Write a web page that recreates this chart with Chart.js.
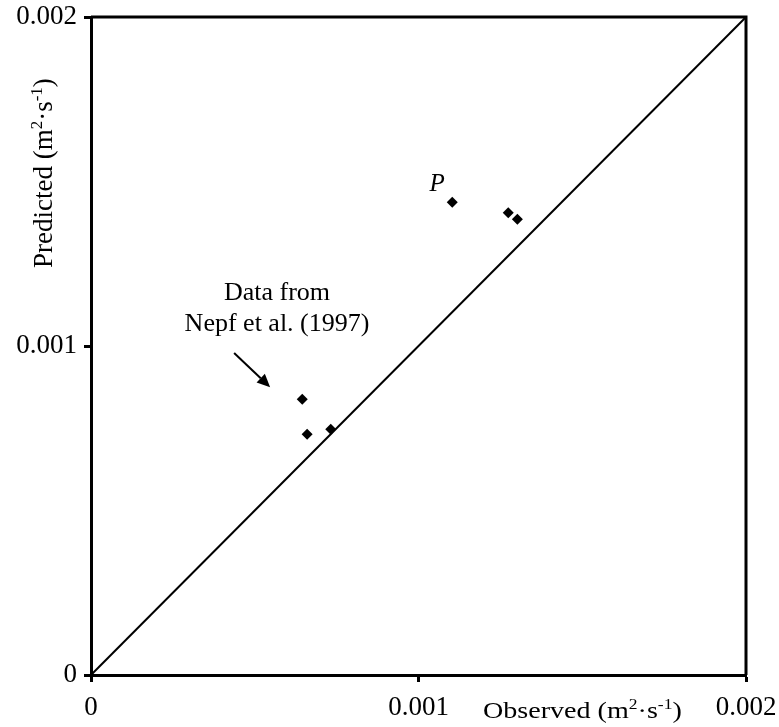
<!DOCTYPE html>
<html>
<head>
<meta charset="utf-8">
<script src="https://cdn.jsdelivr.net/npm/chart.js@4/dist/chart.umd.min.js"></script>
<style>
html,body{margin:0;padding:0;background:#fff;}
#c{display:block;}
</style>
</head>
<body>
<canvas id="c" width="779" height="727"></canvas>
<script>
// ---- data ----
const observed  = [0.000645, 0.000660, 0.000732, 0.001103, 0.001274, 0.001302];
const predicted = [0.000838, 0.000732, 0.000747, 0.001437, 0.001405, 0.001385];
const lineX = [0, 0.002];
const lineY = [0, 0.002];
const tickValues = [0, 0.001, 0.002];
const tickLabels = ['0', '0.001', '0.002'];
const xTitle = [{t:'Observed (m'},{t:'2',sup:true},{t:'·s'},{t:'-1',sup:true},{t:')'}];
const yTitle = [{t:'Predicted (m'},{t:'2',sup:true},{t:'·s'},{t:'-1',sup:true},{t:')'}];
const noteLines = ['Data from', 'Nepf et al. (1997)'];
const pLabel = 'P';

const SERIF = '"Liberation Serif", "Times New Roman", serif';

function fmtTick(v){
  for (let i=0;i<tickValues.length;i++) if (Math.abs(v-tickValues[i])<1e-9) return tickLabels[i];
  return '';
}

function drawRich(ctx, parts, x, y, size){
  let cx = x;
  parts.forEach(p=>{
    if (p.sup){
      ctx.font = Math.round(size*0.62)+'px '+SERIF;
      ctx.fillText(p.t, cx, y - size*0.36);
    } else {
      ctx.font = size+'px '+SERIF;
      ctx.fillText(p.t, cx, y);
    }
    cx += ctx.measureText(p.t).width;
  });
}

const decor = {
  id:'decor',
  afterDatasetsDraw(chart){
    const ctx = chart.ctx, a = chart.chartArea;
    const xs = chart.scales.x, ys = chart.scales.y;
    ctx.save();
    // top and right frame lines
    ctx.strokeStyle = '#000';
    ctx.lineWidth = 3;
    ctx.beginPath();
    ctx.moveTo(a.left, a.top);
    ctx.lineTo(a.right, a.top);
    ctx.lineTo(a.right, a.bottom);
    ctx.stroke();

    ctx.fillStyle = '#000';
    ctx.textAlign = 'left';
    ctx.textBaseline = 'alphabetic';
    // x title (slightly widened like the reference)
    ctx.save();
    ctx.translate(483, 718);
    ctx.scale(1.17, 1);
    drawRich(ctx, xTitle, 0, 0, 24);
    ctx.restore();
    // y title rotated
    ctx.save();
    ctx.translate(52, 268);
    ctx.rotate(-Math.PI/2);
    drawRich(ctx, yTitle, 0, 0, 27);
    ctx.restore();

    // annotation text
    ctx.font = '26px '+SERIF;
    ctx.textAlign = 'center';
    ctx.fillText(noteLines[0], xs.getPixelForValue(0.000568), ys.getPixelForValue(0.001164)+8);
    ctx.fillText(noteLines[1], xs.getPixelForValue(0.000568), ys.getPixelForValue(0.00107)+8);
    ctx.font = 'italic 25px '+SERIF;
    ctx.fillText(pLabel, xs.getPixelForValue(0.001057), ys.getPixelForValue(0.001495)+8);

    // arrow
    const x1 = xs.getPixelForValue(0.000437), y1 = ys.getPixelForValue(0.000979);
    const x2 = xs.getPixelForValue(0.000547), y2 = ys.getPixelForValue(0.000875);
    const ang = Math.atan2(y2-y1, x2-x1);
    const hl = 13, hw = 6;
    const bx = x2 - hl*Math.cos(ang), by = y2 - hl*Math.sin(ang);
    ctx.lineWidth = 2;
    ctx.beginPath(); ctx.moveTo(x1,y1); ctx.lineTo(bx,by); ctx.stroke();
    ctx.beginPath();
    ctx.moveTo(x2,y2);
    ctx.lineTo(bx + hw*Math.sin(ang), by - hw*Math.cos(ang));
    ctx.lineTo(bx - hw*Math.sin(ang), by + hw*Math.cos(ang));
    ctx.closePath(); ctx.fill();
    ctx.restore();
  }
};

const axisCommon = {
  type:'linear', min:0, max:0.002,
  border:{display:true, color:'#000', width:3},
  grid:{display:true, drawOnChartArea:false, drawTicks:true, tickLength:7, tickColor:'#000', tickWidth:3, color:'#000'},
  title:{display:false}
};

new Chart(document.getElementById('c'), {
  type:'scatter',
  data:{
    datasets:[
      {
        label:'1:1',
        type:'line',
        data: lineX.map((x,i)=>({x, y:lineY[i]})),
        borderColor:'#000', borderWidth:2, pointRadius:0, fill:false, order:2
      },
      {
        label:'data',
        data: observed.map((x,i)=>({x, y:predicted[i]})),
        pointStyle:'rectRot', pointRadius:5.5, backgroundColor:'#000', borderColor:'#000', borderWidth:0, order:1
      }
    ]
  },
  options:{
    responsive:false, animation:false, devicePixelRatio:1,
    layout:{padding:{left:0, top:17, right:33, bottom:0}},
    plugins:{legend:{display:false}, tooltip:{enabled:false}},
    scales:{
      x: Object.assign({}, axisCommon, {
        position:'bottom',
        afterBuildTicks(s){ s.ticks = tickValues.map(v=>({value:v})); },
        ticks:{callback:fmtTick, color:'#000', font:{family:SERIF, size:27}, padding:10, maxRotation:0, autoSkip:false},
        afterFit(s){ s.height = 52; s.paddingLeft = 0; s.paddingRight = 0; }
      }),
      y: Object.assign({}, axisCommon, {
        position:'left',
        afterBuildTicks(s){ s.ticks = tickValues.map(v=>({value:v})); },
        ticks:{callback:fmtTick, color:'#000', font:{family:SERIF, size:27}, padding:7, autoSkip:false},
        afterFit(s){ s.width = 91; s.paddingTop = 0; s.paddingBottom = 0; }
      })
    }
  },
  plugins:[decor]
});
</script>
</body>
</html>
